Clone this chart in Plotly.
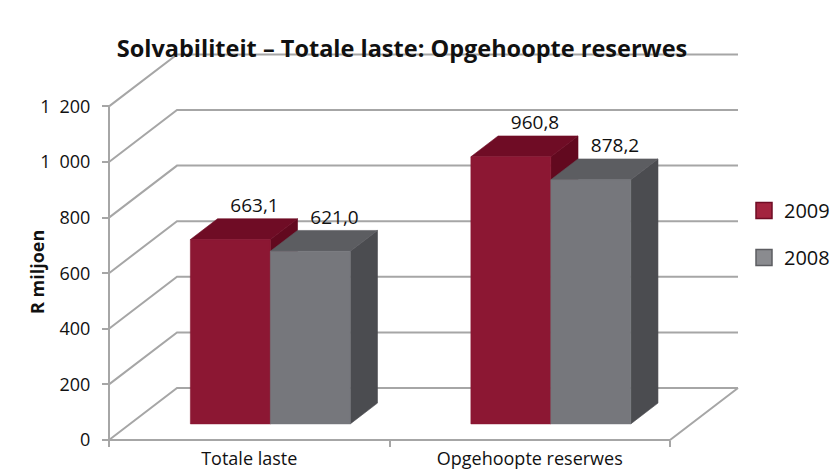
import plotly.graph_objects as go

# ---- data ----
categories = ["Totale laste", "Opgehoopte reserwes"]
series_names = ["2009", "2008"]
values_2009 = [663.1, 960.8]
values_2008 = [621.0, 878.2]
y_ticks = [0, 200, 400, 600, 800, 1000, 1200]

series_values = [values_2009, values_2008]

# ---- styles ----
FONT = "Open Sans"
FACE_COLORS = [
    dict(front="#8C1733", top="#6F0C25", side="#62091F", legend="#A3243F", edge="#6F0C25"),
    dict(front="#76777C", top="#5C5D61", side="#4B4C50", legend="#8A8B8F", edge="#5C5D61"),
]
GRID_COLOR = "#A6A6A6"

# ---- page / plot geometry (pixels) ----
W, H = 834, 470
M_L, M_R, M_T, M_B = 100, 4, 40, 20
PLOT_W = W - M_L - M_R
PLOT_H = H - M_T - M_B

# front plane of the 3D box: category boundary -0.5 at X0_PX, value 0 at Y0_PX
X0_PX, PX_PER_CAT = 109, 280.5
Y0_PX, PX_PER_VAL = 440, 0.278

x_range = [-0.5 - (X0_PX - M_L) / PX_PER_CAT, -0.5 + (W - M_R - X0_PX) / PX_PER_CAT]
y_range = [-(H - M_B - Y0_PX) / PX_PER_VAL, (Y0_PX - M_T) / PX_PER_VAL]

# oblique depth of the box, in data units
DEPTH_X = 68 / PX_PER_CAT
DEPTH_Y = 52 / PX_PER_VAL

# bars sit between these depth fractions
BAR_D0, BAR_D1 = 0.31, 0.71
BAR_W = 0.285

X_LEFT, X_RIGHT = -0.5, len(categories) - 0.5


def proj(x, v, d):
    """Oblique projection of (category x, value v, depth d) into the 2D axes."""
    return x + d * DEPTH_X, v + d * DEPTH_Y


def poly(points):
    xs = [p[0] for p in points] + [points[0][0]]
    ys = [p[1] for p in points] + [points[0][1]]
    return xs, ys


fig = go.Figure()

# ---- walls: side-wall diagonals + back-wall gridlines ----
gx, gy = [], []
for v in y_ticks:
    for p in (proj(X_LEFT, v, 0), proj(X_LEFT, v, 1), proj(X_RIGHT, v, 1)):
        gx.append(p[0]); gy.append(p[1])
    gx.append(None); gy.append(None)
fig.add_trace(go.Scatter(x=gx, y=gy, mode="lines", line=dict(color=GRID_COLOR, width=2),
                         hoverinfo="skip", showlegend=False))

# floor front edge, floor right edge and the vertical value axis line
fx, fy = [], []
for seg in (
    [proj(X_LEFT, 0, 0), proj(X_RIGHT, 0, 0), proj(X_RIGHT, 0, 1)],
    [proj(X_LEFT, 0, 0), proj(X_LEFT, y_ticks[-1], 0)],
):
    for p in seg:
        fx.append(p[0]); fy.append(p[1])
    fx.append(None); fy.append(None)
fig.add_trace(go.Scatter(x=fx, y=fy, mode="lines", line=dict(color=GRID_COLOR, width=2),
                         hoverinfo="skip", showlegend=False))

# ---- 3D bars ----
for ci in range(len(categories)):
    for si, vals in enumerate(series_values):
        v = vals[ci]
        col = FACE_COLORS[si]
        xl = ci - BAR_W + si * BAR_W
        xr = xl + BAR_W
        side = [proj(xr, 0, BAR_D0), proj(xr, v, BAR_D0), proj(xr, v, BAR_D1), proj(xr, 0, BAR_D1)]
        top = [proj(xl, v, BAR_D0), proj(xr, v, BAR_D0), proj(xr, v, BAR_D1), proj(xl, v, BAR_D1)]
        front = [proj(xl, 0, BAR_D0), proj(xr, 0, BAR_D0), proj(xr, v, BAR_D0), proj(xl, v, BAR_D0)]
        for pts, c in ((side, col["side"]), (top, col["top"]), (front, col["front"])):
            px, py = poly(pts)
            fig.add_trace(go.Scatter(x=px, y=py, mode="lines", fill="toself", fillcolor=c,
                                     line=dict(color=c, width=0.6), hoverinfo="skip",
                                     showlegend=False))

# ---- value labels above each bar ----
for si, vals in enumerate(series_values):
    lx, ly = [], []
    for ci, v in enumerate(vals):
        xc = ci - BAR_W / 2 + si * BAR_W
        x, y = proj(xc, v, BAR_D1)
        lx.append(x - 3 / PX_PER_CAT)
        ly.append(y + 2 / PX_PER_VAL)
    fig.add_trace(go.Scatter(x=lx, y=ly, mode="text", customdata=vals,
                             texttemplate="%{customdata:.1f}", textposition="top center",
                             textfont=dict(family=FONT, size=19, color="#111111"),
                             cliponaxis=False, hoverinfo="skip", showlegend=False))

# ---- legend entries ----
for si, name in enumerate(series_names):
    col = FACE_COLORS[si]
    fig.add_trace(go.Scatter(x=[None], y=[None], mode="markers", name=name,
                             legendgroup=name,
                             marker=dict(symbol="square", size=16, color=col["legend"],
                                         line=dict(color=col["edge"], width=1.5))))

fig.update_layout(
    width=W, height=H,
    margin=dict(l=M_L, r=M_R, t=M_T, b=M_B, autoexpand=False),
    paper_bgcolor="white", plot_bgcolor="white",
    separators=",\u2002",
    font=dict(family=FONT, size=18, color="#111111"),
    title=dict(text="<b>Solvabiliteit – Totale laste: Opgehoopte reserwes</b>",
               x=402 / W, xref="container", xanchor="center",
               y=1 - 49 / H, yref="container", yanchor="middle",
               font=dict(family=FONT, size=23.5, color="#111111")),
    xaxis=dict(range=x_range, showgrid=False, zeroline=False, showline=False,
               anchor="free", position=(H - M_B - Y0_PX) / PLOT_H, automargin=False,
               tickmode="array", tickvals=list(range(len(categories))), ticktext=categories,
               ticks="", tickfont=dict(family=FONT, size=18, color="#111111"),
               ticklabelstandoff=6,
               minor=dict(tickmode="array", tickvals=[X_LEFT + i for i in range(len(categories) + 1)],
                          ticks="outside", ticklen=6, tickwidth=2, tickcolor=GRID_COLOR)),
    yaxis=dict(range=y_range, showgrid=False, zeroline=False, showline=False,
               anchor="free", position=(X0_PX - M_L) / PLOT_W, automargin=False,
               tickmode="array", tickvals=y_ticks, tickformat=",d",
               ticks="outside", ticklen=7, tickwidth=2, tickcolor=GRID_COLOR,
               tickfont=dict(family=FONT, size=18, color="#111111"),
               ticklabelstandoff=8),
    legend=dict(x=(744 - M_L) / PLOT_W, xanchor="left",
                y=(H - M_B - 191) / PLOT_H, yanchor="top",
                font=dict(family=FONT, size=20, color="#111111"),
                tracegroupgap=18, bgcolor="rgba(0,0,0,0)", itemsizing="trace"),
    annotations=[dict(text="<b>R miljoen</b>", textangle=-90, showarrow=False,
                      xref="paper", yref="paper",
                      x=(37 - M_L) / PLOT_W, y=(H - M_B - 272) / PLOT_H,
                      xanchor="center", yanchor="middle",
                      font=dict(family=FONT, size=18, color="#111111"))],
)

fig.write_html("out.html")
